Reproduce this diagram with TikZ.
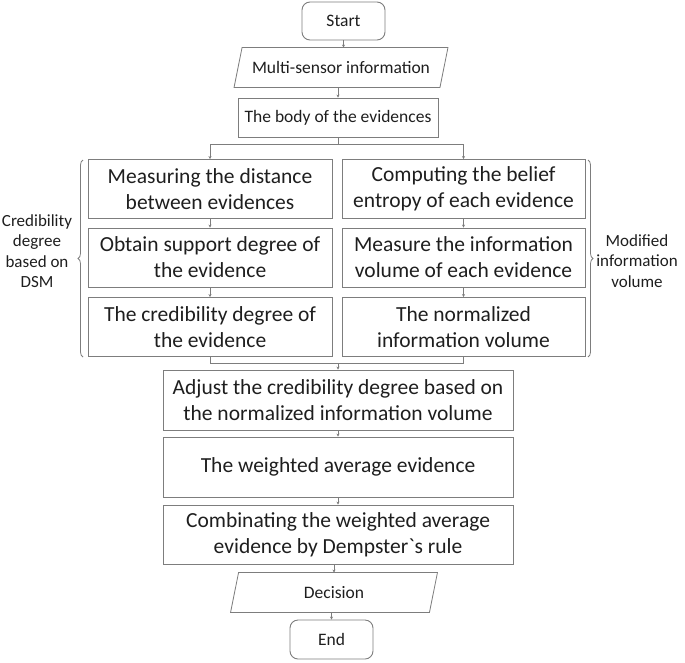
\documentclass[tikz,border=0pt]{standalone}
\usepackage{fontspec}
\setmainfont{Carlito}[Ligatures=TeXOff]
\usetikzlibrary{calc,decorations.pathreplacing,arrows.meta}
\definecolor{linegray}{RGB}{125,125,125}
\definecolor{txt}{RGB}{30,30,30}
\begin{document}
\begin{tikzpicture}[x=1pt,y=-1pt,
  base/.style={draw=linegray,line width=0.9pt,text=txt,align=center,inner sep=0pt},
  bigbox/.style={base,minimum height=59pt,font=\fontsize{21.5}{26}\selectfont},
  smallbox/.style={base,font=\fontsize{17.5}{21}\selectfont},
  term/.style={smallbox,rounded corners=8pt,minimum width=83pt,minimum height=38pt},
  io/.style={base,draw=none,minimum height=39pt,font=\fontsize{17.5}{21}\selectfont},
  conn/.style={draw=linegray,line width=0.8pt},
  arr/.style={conn,-{Stealth[length=3pt,width=3pt]}},
  lab/.style={text=txt,align=center,font=\fontsize{17}{20.5}\selectfont},
  bracestyle/.style={draw=linegray,line width=0.8pt,decorate,decoration={brace,amplitude=5pt}}
]
\useasboundingbox (0,0) rectangle (685,662);

\node[term] (start) at (343.5,21) {Start};
\node[io,minimum width=205pt] (multi) at (341,67.5) {Multi-sensor information};
\draw[conn] ($(multi.south west)+(-4,0)$) -- ($(multi.north west)+(4,0)$) -- ($(multi.north east)+(4,0)$) -- ($(multi.south east)+(-4,0)$) -- cycle;
\node[smallbox,minimum width=200pt,minimum height=39pt] (body) at (338,117.5) {The body of the evidences};

\node[bigbox,minimum width=244pt] (L1) at (210,189) {Measuring the distance\\between evidences};
\node[bigbox,minimum width=244pt] (L2) at (210,257.5) {Obtain support degree of\\the evidence};
\node[bigbox,minimum width=244pt] (L3) at (210,327) {The credibility degree of\\the evidence};

\node[bigbox,minimum width=243pt] (R1) at (463.5,189) {Computing the belief\\entropy of each evidence};
\node[bigbox,minimum width=243pt] (R2) at (463.5,257.5) {Measure the information\\volume of each evidence};
\node[bigbox,minimum width=243pt] (R3) at (463.5,327) {The normalized\\information volume};

\node[bigbox,minimum width=350pt,minimum height=60pt] (adjust) at (338,400) {Adjust the credibility degree based on\\the normalized information volume};
\node[bigbox,minimum width=350pt,minimum height=60pt] (weighted) at (338,467) {The weighted average evidence};
\node[bigbox,minimum width=350pt] (comb) at (338,534.5) {Combinating the weighted average\\evidence by Dempster`s rule};

\node[io,minimum width=198pt] (decision) at (334,592.5) {Decision};
\draw[conn] ($(decision.south west)+(-4,0)$) -- ($(decision.north west)+(4,0)$) -- ($(decision.north east)+(4,0)$) -- ($(decision.south east)+(-4,0)$) -- cycle;
\node[term,minimum height=39pt] (end) at (331.5,639.5) {End};

% connectors
\draw[arr] (start.south) -- (start.south |- multi.north);
\draw[arr] (body.north |- multi.south) -- (body.north);
\coordinate (split) at ($(body.south)+(0,7)$);
\draw[conn] (body.south) -- (split);
\draw[arr] (split) -| (L1.north);
\draw[arr] (split) -| (R1.north);
\draw[arr] (L1) -- (L2);
\draw[arr] (L2) -- (L3);
\draw[arr] (R1) -- (R2);
\draw[arr] (R2) -- (R3);
\coordinate (merge) at ($(adjust.north)+(0,-6)$);
\draw[conn] (L3.south) |- (merge) -| (R3.south);
\draw[arr] (merge) -- (adjust.north);
\draw[arr] (adjust) -- (weighted);
\draw[arr] (weighted) -- (comb);
\draw[arr] (comb.south -| decision.north) -- (decision.north);
\draw[arr] (decision.south -| end.north) -- (end.north);

% braces
\coordinate (lbB) at (83,357);
\coordinate (lbT) at (83,160);
\draw[bracestyle] (lbB) -- (lbT);
\coordinate (rbT) at (588,160);
\coordinate (rbB) at (588,357);
\draw[bracestyle] (rbT) -- (rbB);
\node[lab] (leftlab) at (37,251) {Credibility\\degree\\based on\\DSM};
\node[lab] (rightlab) at (637,261) {Modified\\information\\volume};
\end{tikzpicture}
\end{document}
